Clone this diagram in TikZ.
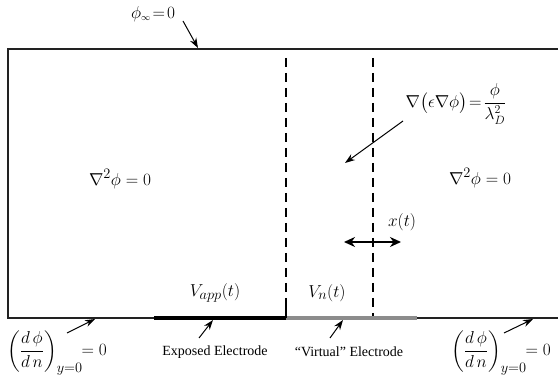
\documentclass[tikz,border=0pt]{standalone}
\usepackage{amsmath}
\usepackage{fontspec}
\setmainfont{Liberation Serif}
\usepackage{tikz}
\usetikzlibrary{positioning, arrows.meta}
\definecolor{wallgrey}{HTML}{222222}
\definecolor{virtgrey}{HTML}{8C8C8C}

\begin{document}
\begin{tikzpicture}[
  x=1pt, y=-1pt,
  every node/.style={inner sep=1pt, text=black},
  eqn/.style={font=\fontsize{19}{22}\selectfont},
  tag/.style={font=\fontsize{14}{16}\selectfont},
  wall/.style={draw=wallgrey, line width=1.2pt},
  boundary/.style={dash pattern=on 9pt off 6pt, line width=1.2pt},
  pointer/.style={-{Stealth[length=10pt, width=7pt]}, line width=1pt},
  sweep/.style={{Stealth[length=11pt, width=10pt]}-{Stealth[length=11pt, width=10pt]}, line width=2.6pt},
]
  \useasboundingbox (0,0) rectangle (558,385);

  % domain, open to the right
  \coordinate (tl) at (8,49);
  \coordinate (bl) at (8,318);
  \coordinate (tr) at (558,49);
  \coordinate (br) at (558,318);
  \draw[wall] (tr) -- (tl) -- (bl) -- (br);

  % edges of the plasma region
  \coordinate (dashA) at (286,58);
  \coordinate (dashB) at (373,58);
  \draw[boundary] (dashA) -- (dashA |- br);
  \draw[boundary] (dashB) -- (dashB |- br);

  % electrodes on the lower wall
  \coordinate (elecA) at (154,318);
  \coordinate (elecB) at (286,318);
  \coordinate (elecC) at (417,318);
  \draw[line width=4pt, black] (elecA) -- (elecB);
  \draw[line width=4pt, virtgrey] (elecB) -- (elecC);
  \draw[line width=1.2pt] (elecB) -- ++(0,-11);

  \node[eqn] (phiinf) at (153,14) {$\phi_{\scriptscriptstyle\infty}\!=\!0$};
  \node[eqn] (lapleft) at (120,179) {$\nabla^2\phi=0$};
  \node[eqn] (lapright) at (480,178) {$\nabla^2\phi=0$};
  \node[eqn, font=\fontsize{17}{20}\selectfont] (debye) at (456,104) {$\nabla\bigl(\epsilon\nabla\phi\bigr)\!=\!\dfrac{\phi}{\lambda_D^2}$};
  \node[eqn] (xpos) at (402,222) {$x(t)$};
  \node[eqn] (vapp) at (215,293) {$V_{app}(t)$};
  \node[eqn] (vn) at (327,293) {$V_n(t)$};
  \node[tag] (exposed) at (215,352) {Exposed Electrode};
  \node[tag] (virtual) at (349,352) {``Virtual'' Electrode};
  \node[eqn] (bcleft) at (57,353) {$\displaystyle\left(\frac{d\,\phi}{d\,n}\right)_{y=0}\!\!=0$};
  \node[eqn] (bcright) at (501,353) {$\displaystyle\left(\frac{d\,\phi}{d\,n}\right)_{y=0}\!\!=0$};

  % pointers
  \coordinate (phitail) at (183,21);
  \coordinate (topwall) at (198,48);
  \coordinate (debyetail) at (403,121);
  \coordinate (plasma) at (345,163);
  \coordinate (bclefttail) at (67,333);
  \coordinate (leftwall) at (95,319);
  \coordinate (bcrighttail) at (504,333);
  \coordinate (rightwall) at (533,319);
  \coordinate (exposedtail) at (199,338);
  \coordinate (elecmid) at (213,320);
  \coordinate (virtualtail) at (330,338);
  \coordinate (virtmid) at (343,320);
  \draw[pointer] (phitail) -- (topwall);
  \draw[pointer] (debyetail) -- (plasma);
  \draw[pointer] (bclefttail) -- (leftwall);
  \draw[pointer] (bcrighttail) -- (rightwall);
  \draw[pointer] (exposedtail) -- (elecmid);
  \draw[pointer] (virtualtail) -- (virtmid);

  % motion of the front
  \coordinate (moveL) at (344,242);
  \coordinate (moveR) at (401,242);
  \draw[sweep] (moveL) -- (moveR);
\end{tikzpicture}
\end{document}
